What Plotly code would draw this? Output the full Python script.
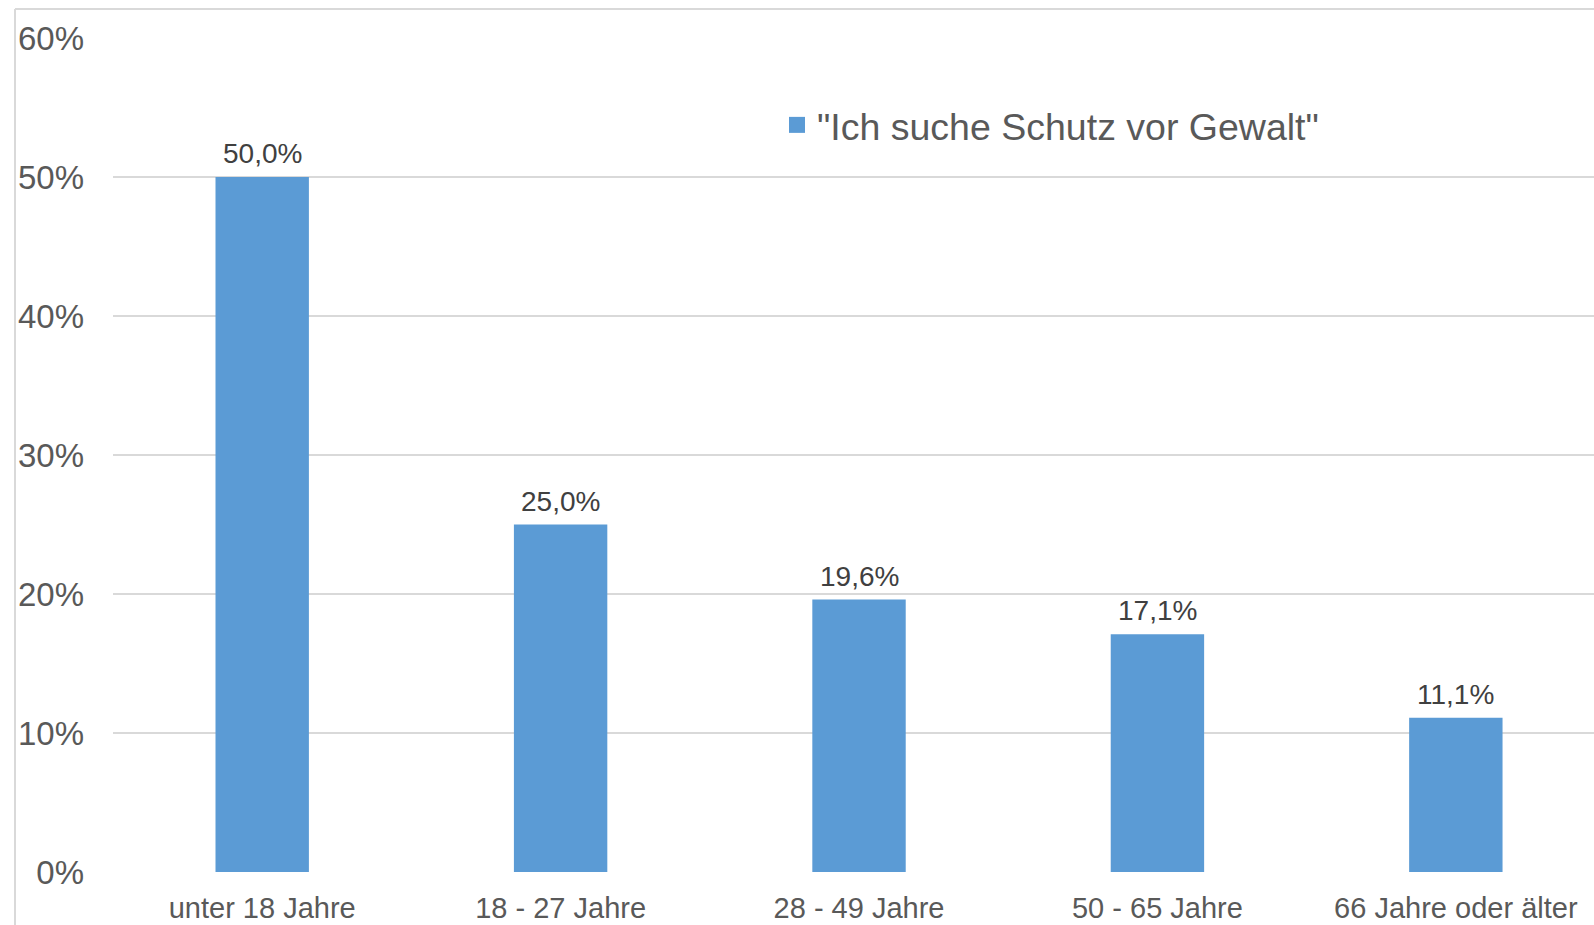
import plotly.graph_objects as go

categories = ["unter 18 Jahre", "18 - 27 Jahre", "28 - 49 Jahre", "50 - 65 Jahre", "66 Jahre oder älter"]
values = [0.500, 0.250, 0.196, 0.171, 0.111]
series_name = '"Ich suche Schutz vor Gewalt"'
y_ticks = [0, 0.1, 0.2, 0.3, 0.4, 0.5, 0.6]
y_tick_labels = ["0%", "10%", "20%", "30%", "40%", "50%", "60%"]

W, H = 1594, 925
ml, mr, mt, mb = 113, 0, 38, 53
pw, ph = W - ml - mr, H - mt - mb

FONT = "Liberation Sans, Arial, sans-serif"
TXT = "#595959"
GRID = "#d9d9d9"
BAR = "#5b9bd5"

labels = [f"{v*100:.1f}%".replace(".", ",") for v in values]

fig = go.Figure()
fig.add_trace(go.Bar(
    x=categories, y=values, name=series_name,
    marker=dict(color=BAR, line=dict(width=0)),
    width=0.313, showlegend=False,
    hoverinfo="skip",
))
# legend entry (larger square swatch)
fig.add_trace(go.Scatter(
    x=[None], y=[None], mode="markers", name=series_name,
    marker=dict(symbol="square", size=17, color=BAR),
    showlegend=True, hoverinfo="skip",
))

for c, v, t in zip(categories, values, labels):
    fig.add_annotation(x=c, y=v, text=t, showarrow=False, yanchor="bottom",
                       yshift=6, font=dict(family=FONT, size=28, color="#404040"))

# chart-area border (left and top, partly cropped)
bx = (15 - ml) / pw
by_top = (H - mb - 9) / ph
by_bot = -(mb + 5) / ph
fig.add_shape(type="line", xref="paper", yref="paper", x0=bx, x1=bx, y0=by_bot, y1=by_top,
              line=dict(color=GRID, width=2))
fig.add_shape(type="line", xref="paper", yref="paper", x0=bx, x1=1.05, y0=by_top, y1=by_top,
              line=dict(color=GRID, width=2))

fig.update_layout(
    width=W, height=H,
    margin=dict(l=ml, r=mr, t=mt, b=mb, pad=0),
    paper_bgcolor="white", plot_bgcolor="white",
    font=dict(family=FONT, color=TXT),
    showlegend=True,
    legend=dict(x=(777 - ml) / pw, y=(H - mb - 125) / ph, xanchor="left", yanchor="middle",
                itemsizing="trace",
                font=dict(family=FONT, size=37.5, color=TXT), bgcolor="rgba(0,0,0,0)"),
    xaxis=dict(range=[-0.5, 4.463], showgrid=False, zeroline=False, showline=False,
               ticks="", tickfont=dict(size=29, color=TXT), ticklabelstandoff=16,
               fixedrange=True),
    yaxis=dict(range=[0, 0.6], tickvals=y_ticks, ticktext=y_tick_labels,
               showgrid=True, gridcolor=GRID, gridwidth=1.5, zeroline=False, showline=False,
               ticks="", tickfont=dict(size=33, color=TXT), ticklabelstandoff=28, fixedrange=True),
)

fig.write_html("out.html", config={"displayModeBar": False},
               post_script="document.body.style.margin='0';document.body.style.overflow='hidden';")
